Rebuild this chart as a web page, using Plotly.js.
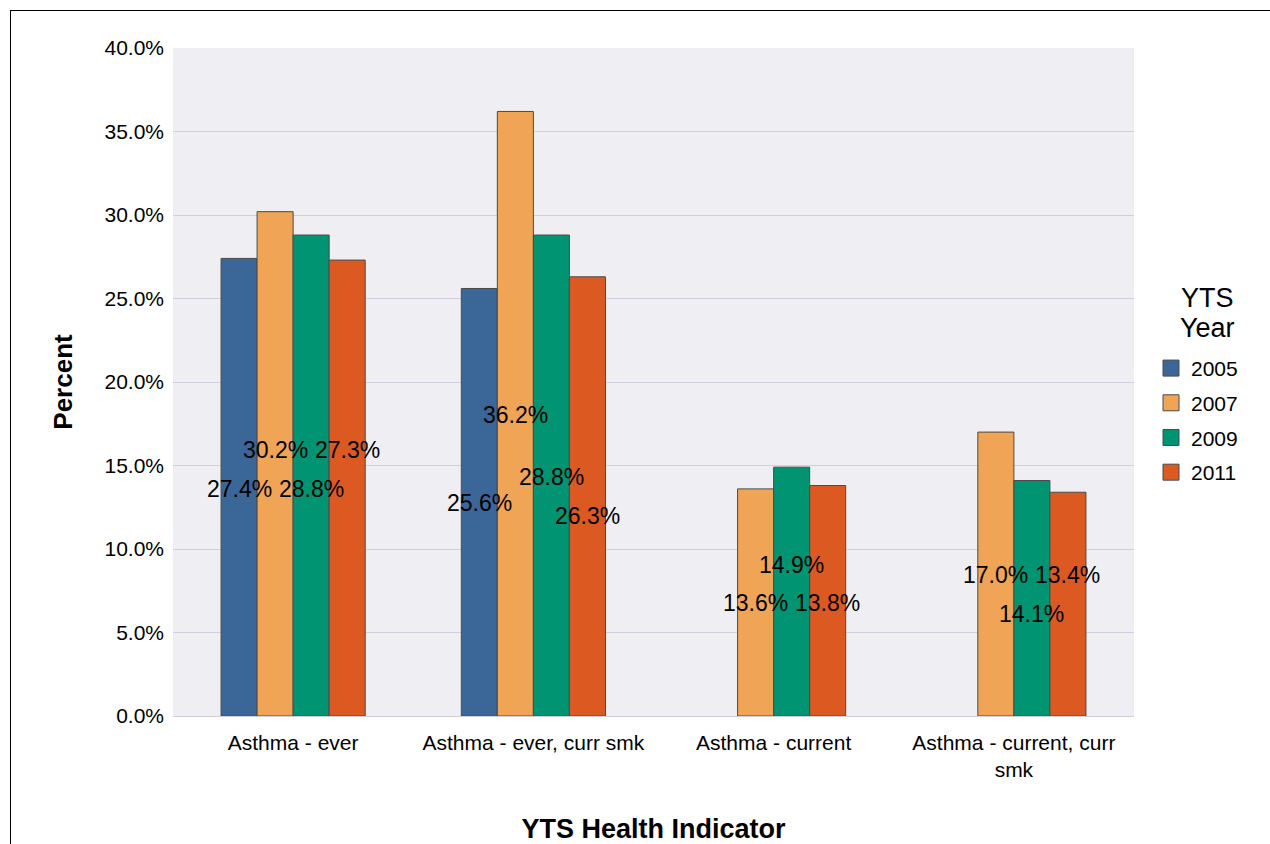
<!DOCTYPE html>
<html>
<head>
<meta charset="utf-8">
<script src="https://cdn.plot.ly/plotly-3.0.1.min.js"></script>
<style>
  html, body { margin: 0; padding: 0; background: #ffffff; overflow: hidden; }
  #frame { position: absolute; left: 10px; top: 10px; width: 1300px; height: 900px;
           border-top: 1px solid #000; border-left: 1px solid #000; }
  #chart { position: absolute; left: 0; top: 0; width: 1270px; height: 844px; }
</style>
</head>
<body>
<div id="frame"></div>
<div id="chart"></div>
<script>
// ---- Data ----
const categories = ["Asthma - ever", "Asthma - ever, curr smk", "Asthma - current", "Asthma - current, curr<br>smk"];
const years = ["2005", "2007", "2009", "2011"];
const values2005 = [27.4, 25.6, null, null];
const values2007 = [30.2, 36.2, 13.6, 17.0];
const values2009 = [28.8, 28.8, 14.9, 14.1];
const values2011 = [27.3, 26.3, 13.8, 13.4];
const yTickVals = [0, 5, 10, 15, 20, 25, 30, 35, 40];
const yTickText = ["0.0%", "5.0%", "10.0%", "15.0%", "20.0%", "25.0%", "30.0%", "35.0%", "40.0%"];
const legendTitleLines = ["YTS", "Year"];

// ---- Style ----
const colors = ["#3b6698", "#f0a455", "#009473", "#dc5a21"];
// vertical pixel nudges applied to value labels (collision avoidance as in reference)
const labelNudge = [
  [-2, -1, 0, 0],
  [14, -1, -1, -1],
  [-13, -1, 27, -16],
  [38, -20, -2, 29]
];
const series = [values2005, values2007, values2009, values2011];
const bargap = 0.4;
const font = "Arial, 'Liberation Sans', sans-serif";
const outline = "#4a4a4a";

const traces = series.map((vals, j) => ({
  type: "bar",
  name: years[j],
  x: categories,
  y: vals,
  showlegend: false,
  marker: { color: colors[j], line: { color: outline, width: 1 } },
  hoverinfo: "x+y+name"
}));

// legend entries with larger square swatches
years.forEach((yr, j) => {
  traces.push({
    type: "scatter",
    mode: "markers",
    name: yr,
    x: [null], y: [null],
    legendgroup: yr,
    showlegend: true,
    marker: { symbol: "square", size: 16, color: colors[j], line: { color: outline, width: 1 } },
    hoverinfo: "skip"
  });
});

const annotations = [];
const nS = series.length;
const bw = (1 - bargap) / nS;
series.forEach((vals, j) => {
  vals.forEach((v, i) => {
    if (v === null || v === undefined) return;
    annotations.push({
      xref: "x", yref: "y",
      x: i + (j - (nS - 1) / 2) * bw,
      y: v / 2,
      yshift: labelNudge[j][i],
      text: v.toFixed(1) + "%",
      showarrow: false,
      font: { family: font, size: 23, color: "#000" },
      xanchor: "center", yanchor: "middle"
    });
  });
});

// legend title (two lines, tighter line spacing than Plotly's default)
legendTitleLines.forEach((line, k) => {
  annotations.push({
    xref: "paper", yref: "paper",
    x: 1.076, y: 0.626, yshift: -30 * k,
    text: line,
    showarrow: false,
    font: { family: font, size: 27, color: "#000" },
    xanchor: "center", yanchor: "middle"
  });
});

const layout = {
  width: 1270, height: 844,
  margin: { l: 173, r: 136, t: 48, b: 128 },
  paper_bgcolor: "rgba(0,0,0,0)",
  plot_bgcolor: "#efeef3",
  font: { family: font, size: 20, color: "#000" },
  barmode: "group",
  bargap: bargap,
  bargroupgap: 0,
  xaxis: {
    type: "category",
    range: [-0.5, 3.5],
    tickfont: { family: font, size: 21, color: "#000" },
    ticklabelstandoff: 12,
    ticks: "", showgrid: false, zeroline: false, showline: false,
    title: { text: "<b>YTS Health Indicator</b>", font: { family: font, size: 27, color: "#000" }, standoff: 40 }
  },
  yaxis: {
    range: [0, 40],
    tickvals: yTickVals,
    ticktext: yTickText,
    tickfont: { family: font, size: 21, color: "#000" },
    ticklabelstandoff: 8,
    gridcolor: "#cfcfe0", gridwidth: 1,
    zeroline: true, zerolinecolor: "#cfcfe0", zerolinewidth: 1,
    showline: false, ticks: "",
    title: { text: "<b>Percent</b>", font: { family: font, size: 26, color: "#000" }, standoff: 24 }
  },
  legend: {
    x: 1.0177, xanchor: "left",
    y: 0.551, yanchor: "top",
    traceorder: "grouped",
    tracegroupgap: 4.4,
    font: { family: font, size: 21, color: "#000" },
    bgcolor: "rgba(0,0,0,0)"
  },
  annotations: annotations,
  showlegend: true
};

Plotly.newPlot("chart", traces, layout, { displayModeBar: false });
</script>
</body>
</html>
